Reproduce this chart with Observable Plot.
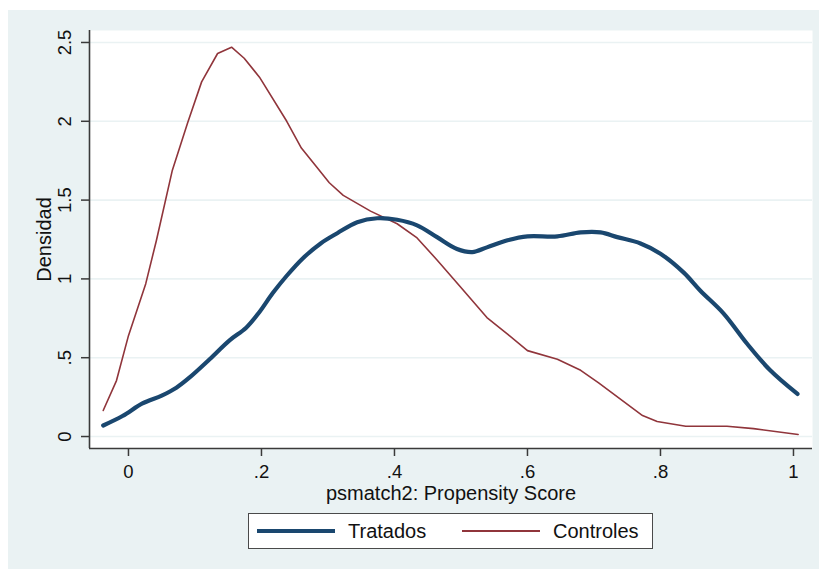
<!DOCTYPE html>
<html>
<head>
<meta charset="utf-8">
<script src="https://cdn.jsdelivr.net/npm/d3@7"></script>
<script src="https://cdn.jsdelivr.net/npm/@observablehq/plot@0.6"></script>
<style>
  html, body { margin: 0; padding: 0; background: #ffffff; width: 819px; height: 569px; overflow: hidden; }
  body { position: relative; font-family: "Liberation Sans", Arial, sans-serif; }
  #panel { position: absolute; left: 8px; top: 10px; right: 0; bottom: 0; background: #EAF2F3; }
  #chart { position: absolute; left: 0; top: 0; }
  #legend { position: absolute; left: 248px; top: 513px; width: 403px; height: 34px;
            background: #ffffff; border: 1.5px solid #4a4a4a; }
  #legend .item { position: absolute; top: 0; height: 34px; display: flex; align-items: center; }
  #legend .swatch { display: block; }
  #legend .label { font-size: 20px; color: #111; margin-left: 13px; }
</style>
</head>
<body>
<div id="panel"></div>
<div id="chart"></div>
<div id="legend"></div>
<script>
// Kernel density of the propensity score, treated vs. control group
const seriesNames = ["Tratados", "Controles"];
const seriesColors = ["#1A476F", "#90353B"];

const tratadosX = [-0.038, -0.009, 0.021, 0.05, 0.072, 0.092, 0.122, 0.152, 0.177, 0.197, 0.217, 0.238, 0.262,
  0.289, 0.314, 0.344, 0.374, 0.404, 0.434, 0.464, 0.494, 0.517, 0.539, 0.57, 0.60, 0.645, 0.68, 0.71,
  0.735, 0.77, 0.80, 0.835, 0.86, 0.895, 0.93, 0.965, 1.006];
const tratadosY = [0.07, 0.13, 0.21, 0.26, 0.31, 0.375, 0.49, 0.61, 0.69, 0.79, 0.91, 1.02, 1.13,
  1.225, 1.29, 1.36, 1.385, 1.375, 1.34, 1.265, 1.19, 1.17, 1.20, 1.245, 1.27, 1.27, 1.295, 1.295,
  1.265, 1.225, 1.16, 1.04, 0.925, 0.78, 0.59, 0.42, 0.27];

const controlesX = [-0.038, -0.018, 0.0, 0.026, 0.042, 0.066, 0.089, 0.11, 0.134, 0.155, 0.174, 0.197,
  0.238, 0.26, 0.283, 0.302, 0.323, 0.364, 0.404, 0.434, 0.464, 0.499, 0.539, 0.57, 0.60, 0.645,
  0.68, 0.707, 0.773, 0.795, 0.838, 0.90, 0.94, 1.007];
const controlesY = [0.165, 0.355, 0.64, 0.97, 1.244, 1.69, 1.99, 2.25, 2.43, 2.47, 2.40, 2.28,
  2.0, 1.83, 1.71, 1.61, 1.53, 1.43, 1.35, 1.26, 1.12, 0.95, 0.755, 0.65, 0.545, 0.49,
  0.42, 0.34, 0.133, 0.095, 0.065, 0.065, 0.05, 0.013];

const xTicks = [0, 0.2, 0.4, 0.6, 0.8, 1];
const xTickLabels = ["0", ".2", ".4", ".6", ".8", "1"];
const yTicks = [0, 0.5, 1, 1.5, 2, 2.5];
const yTickLabels = ["0", ".5", "1", "1.5", "2", "2.5"];

const xTitle = "psmatch2: Propensity Score";
const yTitle = "Densidad";

const xDomain = [-0.0586, 1.0286];
const yDomain = [-0.076, 2.576];

const tratados = tratadosX.map((x, i) => ({x, y: tratadosY[i]}));
const controles = controlesX.map((x, i) => ({x, y: controlesY[i]}));
const xTickData = xTicks.map((v, i) => ({v, label: xTickLabels[i]}));
const yTickData = yTicks.map((v, i) => ({v, label: yTickLabels[i]}));

const axisColor = "#3a3a3a";
const gridColor = "#EAF2F3";

const chart = Plot.plot({
  width: 819,
  height: 505,
  marginLeft: 89,
  marginRight: 7,
  marginTop: 30,
  marginBottom: 57,
  style: {background: "transparent", fontFamily: "'Liberation Sans', Arial, sans-serif"},
  x: {domain: xDomain, axis: null},
  y: {domain: yDomain, axis: null},
  marks: [
    Plot.frame({fill: "#ffffff", stroke: null}),
    Plot.ruleY(yTicks, {stroke: gridColor, strokeWidth: 1.6}),
    // axis lines
    Plot.ruleX([xDomain[0]], {stroke: axisColor, strokeWidth: 1.6}),
    Plot.ruleY([yDomain[0]], {stroke: axisColor, strokeWidth: 1.6}),
    // ticks
    Plot.axisX({ticks: xTicks, tickSize: 8, tickFormat: () => "", stroke: axisColor, strokeWidth: 1.5}),
    Plot.axisY({ticks: yTicks, tickSize: 8, tickFormat: () => "", stroke: axisColor, strokeWidth: 1.5}),
    // tick labels
    Plot.text(xTickData, {x: "v", text: "label", frameAnchor: "bottom", dy: 24, lineAnchor: "middle",
      fontSize: 18.5, fill: "#111"}),
    Plot.text(yTickData, {y: "v", text: "label", frameAnchor: "left", dx: -24, rotate: -90,
      textAnchor: "middle", lineAnchor: "middle", fontSize: 18.5, fill: "#111"}),
    // titles
    Plot.text([xTitle], {frameAnchor: "bottom", dy: 45, lineAnchor: "middle", fontSize: 20, fill: "#111"}),
    Plot.text([yTitle], {frameAnchor: "left", dx: -45, rotate: -90, textAnchor: "middle",
      lineAnchor: "middle", fontSize: 20, fill: "#111"}),
    // density curves
    Plot.line(controles, {x: "x", y: "y", stroke: seriesColors[1], strokeWidth: 1.6, strokeLinejoin: "round"}),
    Plot.line(tratados, {x: "x", y: "y", curve: "catmull-rom", stroke: seriesColors[0], strokeWidth: 4.2,
      strokeLinejoin: "round", strokeLinecap: "round"})
  ]
});
document.getElementById("chart").appendChild(chart);

// Legend below the plot
const legend = document.getElementById("legend");
const legendItems = [
  {left: 8, lineW: 78, lineH: 4.2},
  {left: 213, lineW: 78, lineH: 1.6}
];
seriesNames.forEach((name, i) => {
  const item = document.createElement("div");
  item.className = "item";
  item.style.left = legendItems[i].left + "px";
  const sw = document.createElement("span");
  sw.className = "swatch";
  sw.style.width = legendItems[i].lineW + "px";
  sw.style.height = legendItems[i].lineH + "px";
  sw.style.background = seriesColors[i];
  const lab = document.createElement("span");
  lab.className = "label";
  lab.textContent = name;
  item.appendChild(sw);
  item.appendChild(lab);
  legend.appendChild(item);
});
</script>
</body>
</html>
